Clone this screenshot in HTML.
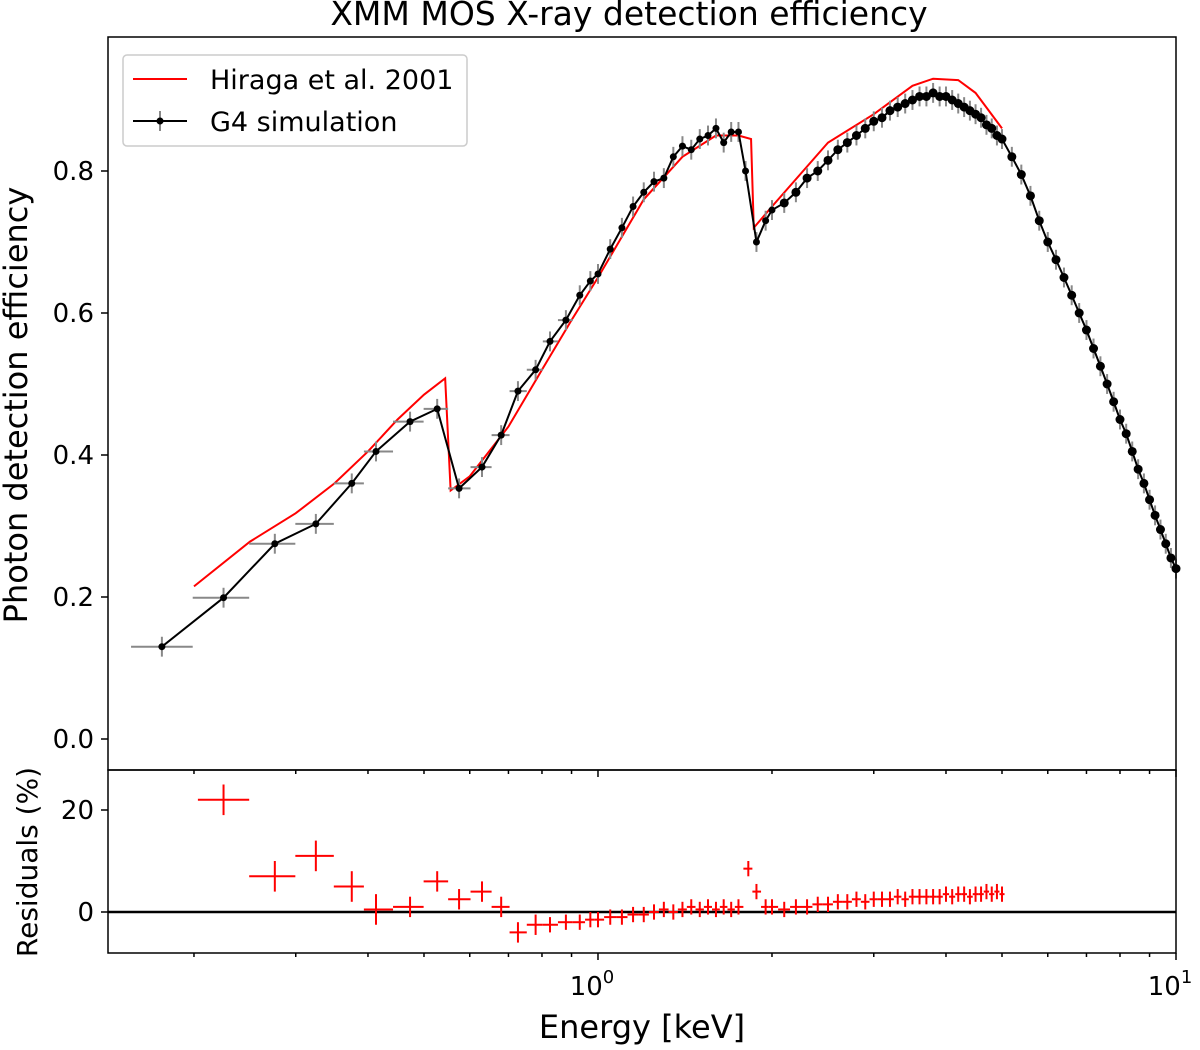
<!DOCTYPE html>
<html><head><meta charset="utf-8"><style>
body{margin:0;background:#fff;}
svg text{font-family:"DejaVu Sans","Liberation Sans",sans-serif;fill:#000;}
</style></head><body>
<svg id="chart" width="1200" height="1045" xmlns="http://www.w3.org/2000/svg"></svg>
<script>
const simE=[0.176,0.225,0.276,0.325,0.375,0.413,0.473,0.527,0.575,0.63,0.68,0.727,0.78,0.826,0.88,0.93,0.97,1.0,1.05,1.1,1.15,1.2,1.25,1.3,1.35,1.4,1.45,1.5,1.55,1.6,1.65,1.7,1.75,1.8,1.88,1.95,2.0,2.1,2.2,2.3,2.4,2.5,2.6,2.7,2.8,2.9,3.0,3.1,3.2,3.3,3.4,3.5,3.6,3.7,3.8,3.9,4.0,4.1,4.2,4.3,4.4,4.5,4.6,4.7,4.8,4.9,5.0,5.2,5.4,5.6,5.8,6.0,6.2,6.4,6.6,6.8,7.0,7.2,7.4,7.6,7.8,8.0,8.2,8.4,8.6,8.8,9.0,9.2,9.4,9.6,9.8,10.0];
const simV=[0.13,0.199,0.275,0.303,0.36,0.405,0.447,0.465,0.353,0.383,0.428,0.49,0.52,0.56,0.59,0.625,0.645,0.655,0.69,0.72,0.75,0.77,0.785,0.79,0.82,0.835,0.83,0.845,0.85,0.86,0.84,0.855,0.855,0.8,0.70,0.73,0.745,0.755,0.77,0.79,0.80,0.815,0.83,0.84,0.85,0.86,0.87,0.875,0.885,0.89,0.895,0.9,0.905,0.905,0.91,0.905,0.905,0.9,0.895,0.89,0.885,0.88,0.875,0.865,0.86,0.85,0.845,0.82,0.795,0.765,0.73,0.70,0.675,0.65,0.625,0.60,0.576,0.55,0.525,0.50,0.475,0.45,0.43,0.405,0.38,0.36,0.337,0.315,0.295,0.275,0.255,0.24];
const modE=[0.2,0.25,0.3,0.35,0.4,0.45,0.5,0.544,0.556,0.6,0.7,0.8,0.9,1.0,1.2,1.4,1.6,1.75,1.84,1.86,2.0,2.5,3.0,3.5,3.8,4.2,4.5,5.0];
const modV=[0.215,0.278,0.318,0.36,0.405,0.45,0.485,0.508,0.35,0.37,0.44,0.52,0.59,0.65,0.76,0.82,0.85,0.85,0.845,0.72,0.75,0.84,0.88,0.92,0.93,0.928,0.91,0.86];
const resE=[0.225,0.276,0.325,0.375,0.413,0.473,0.527,0.575,0.63,0.68,0.727,0.78,0.826,0.88,0.93,0.97,1.0,1.05,1.1,1.15,1.2,1.25,1.3,1.35,1.4,1.45,1.5,1.55,1.6,1.65,1.7,1.75,1.82,1.88,1.95,2.0,2.1,2.2,2.3,2.4,2.5,2.6,2.7,2.8,2.9,3.0,3.1,3.2,3.3,3.4,3.5,3.6,3.7,3.8,3.9,4.0,4.1,4.2,4.3,4.4,4.5,4.6,4.7,4.8,4.9,5.0];
const resV=[22,7,11,5,0.5,1,6,2.5,4,1,-4,-2.5,-2.5,-2,-2,-1.5,-1.5,-1,-1,-0.5,-0.5,0,0.5,0,0.5,1,0.5,1,0.5,1,0.5,1,8.5,4,1,1,0.5,1,1,1.5,1.5,2,2,2.5,2,2.5,2.5,2.5,3,2.5,3,3,3,3,3,3.5,3,3.5,3.5,3,3.5,3.5,4,3.5,4,3.5];
const yTicks=[0,0.2,0.4,0.6,0.8];
const rTicks=[0,20];

const svg=document.getElementById('chart');
const NS='http://www.w3.org/2000/svg';
const L=108,R=1176,T1=37,B1=770,B2=953;
const lx0=Math.log10(0.142),lx1=1;
const X=e=>L+(Math.log10(e)-lx0)/(lx1-lx0)*(R-L);
const Y=v=>739-v*710;
const RY=v=>912-v*5.1;
function el(t,a,p){const e=document.createElementNS(NS,t);for(const k in a)e.setAttribute(k,a[k]);(p||svg).appendChild(e);return e;}
function txt(s,a,name){const e=el('text',a);e.textContent=s;return e;}
function half(i,arr){const p=i>0?arr[i-1]:arr[i]*arr[i]/arr[i+1];const n=i<arr.length-1?arr[i+1]:arr[i]*arr[i]/arr[i-1];return [Math.sqrt(p*arr[i]),Math.sqrt(n*arr[i])];}

txt('XMM MOS X-ray detection efficiency',{x:629,y:25,'font-size':33,'text-anchor':'middle'},'chart-title');

const mp=el('polyline',{points:modE.map((e,i)=>X(e)+','+Y(modV[i])).join(' '),fill:'none',stroke:'#f00','stroke-width':2});


simE.forEach((e,i)=>{const [a,b]=half(i,simE);const g=el('g',{});


if(e<0.9)el('line',{x1:X(a),x2:X(b),y1:Y(simV[i]),y2:Y(simV[i]),stroke:'#888','stroke-width':2},g);
el('line',{x1:X(e),x2:X(e),y1:Y(simV[i]-0.014),y2:Y(simV[i]+0.014),stroke:'#888','stroke-width':2},g);});
const sp=el('polyline',{points:simE.map((e,i)=>X(e)+','+Y(simV[i])).join(' '),fill:'none',stroke:'#000','stroke-width':2});


simE.forEach((e,i)=>{const c=el('circle',{cx:X(e),cy:Y(simV[i]),r:e>2?4.5:3.5,fill:'#000'});

});

el('line',{x1:L,x2:R,y1:RY(0),y2:RY(0),stroke:'#000','stroke-width':2.5});
resE.forEach((e,i)=>{const [a,b]=half(i,resE);const err=e<0.45?3:(e<0.8?2:1.5);const g=el('g',{});


el('line',{x1:X(a),x2:X(b),y1:RY(resV[i]),y2:RY(resV[i]),stroke:'#f00','stroke-width':2},g);
el('line',{x1:X(e),x2:X(e),y1:RY(resV[i]-err),y2:RY(resV[i]+err),stroke:'#f00','stroke-width':2},g);});

el('rect',{x:L,y:T1,width:R-L,height:B1-T1,fill:'none',stroke:'#000','stroke-width':1.5});
el('rect',{x:L,y:B1,width:R-L,height:B2-B1,fill:'none',stroke:'#000','stroke-width':1.5});

yTicks.forEach(v=>{el('line',{x1:L-7,x2:L,y1:Y(v),y2:Y(v),stroke:'#000','stroke-width':1.5});
txt(v.toFixed(1),{x:L-14,y:Y(v)+9,'font-size':26,'text-anchor':'end'},'y-tick-label');});
rTicks.forEach(v=>{el('line',{x1:L-7,x2:L,y1:RY(v),y2:RY(v),stroke:'#000','stroke-width':1.5});
txt(String(v),{x:L-14,y:RY(v)+9,'font-size':26,'text-anchor':'end'},'residual-tick-label');});
for(let d=-1;d<=1;d++)for(let m=1;m<10;m++){const e=m*Math.pow(10,d);if(e<0.142||e>10.001)continue;
const major=m===1;
el('line',{x1:X(e),x2:X(e),y1:B2,y2:B2+(major?7:4),stroke:'#000','stroke-width':1.5});
el('line',{x1:X(e),x2:X(e),y1:B1,y2:B1+(major?7:4),stroke:'#000','stroke-width':1.5});}
[[1,'0'],[10,'1']].forEach(([e,p])=>{const t=txt('10',{x:X(e)-6,y:995,'font-size':26,'text-anchor':'middle'},'x-tick-label');
const s=el('tspan',{dy:-12,'font-size':18});s.textContent=p;t.appendChild(s);});
txt('Energy [keV]',{x:642,y:1038,'font-size':32,'text-anchor':'middle'},'x-axis-title');
txt('Photon detection efficiency',{x:0,y:0,'font-size':32,'text-anchor':'middle',transform:'translate(27,405) rotate(-90)'},'y-axis-title');
txt('Residuals (%)',{x:0,y:0,'font-size':28,'text-anchor':'middle',transform:'translate(37,862) rotate(-90)'},'residual-axis-title');

const lg=el('g',{});


el('rect',{x:123,y:55,width:344,height:91,rx:4,fill:'#fff',stroke:'#ccc','stroke-width':1.5},lg);
el('line',{x1:133,x2:187,y1:79,y2:79,stroke:'#f00','stroke-width':2},lg);
txt('Hiraga et al. 2001',{x:210,y:89,'font-size':27},'legend-entry-hiraga');
el('line',{x1:133,x2:187,y1:121,y2:121,stroke:'#000','stroke-width':2},lg);
el('line',{x1:160,x2:160,y1:111,y2:131,stroke:'#888','stroke-width':2},lg);
el('circle',{cx:160,cy:121,r:3.5,fill:'#000'},lg);
txt('G4 simulation',{x:210,y:131,'font-size':27},'legend-entry-g4');
</script>
</body></html>
